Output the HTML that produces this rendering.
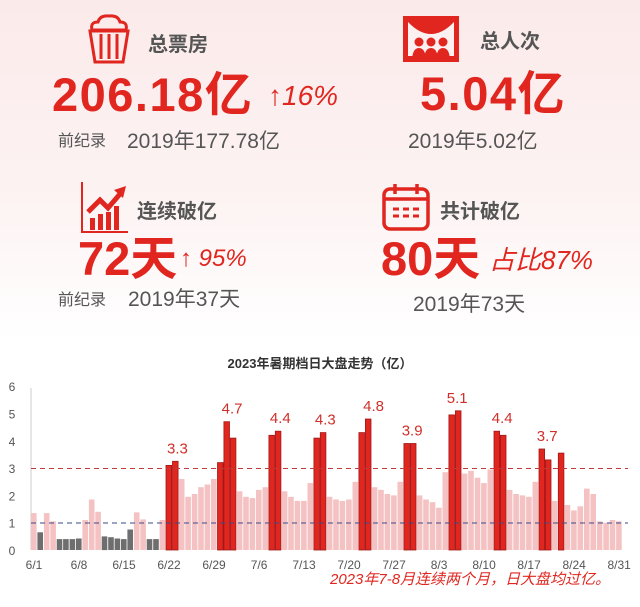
<!DOCTYPE html>
<html><head><meta charset="utf-8">
<style>
html,body{margin:0;padding:0}
body{width:640px;height:607px;position:relative;overflow:hidden;font-family:"Liberation Sans","Noto Sans CJK SC",sans-serif;background:linear-gradient(#fbeaea 0px,#fdf3f3 200px,#ffffff 340px,#ffffff 607px)}
.t{position:absolute;white-space:nowrap;line-height:1}
.red{color:#e0261f}
.g{color:#555}
.big{font-weight:bold;font-size:47px;color:#e0261f;letter-spacing:1.5px}
.lab{font-weight:bold;font-size:20px;color:#555}
.it{font-style:italic;color:#e0261f}
</style></head><body>
<!-- popcorn icon -->
<svg style="position:absolute;left:86px;top:14px" width="46" height="50" viewBox="0 0 46 50">
<path d="M6 16 Q4 8 12 8 Q14 1 23 2 Q32 1 34 8 Q42 8 40 16 Z" fill="none" stroke="#e0261f" stroke-width="3"/>
<path d="M4 17 H42 L37 48 H9 Z" fill="none" stroke="#e0261f" stroke-width="3"/>
<path d="M15 20 V45 M23 20 V45 M31 20 V45" stroke="#e0261f" stroke-width="3"/>
</svg>
<div class="t lab" style="left:148px;top:35px">总票房</div>
<div class="t big" style="left:52px;top:71px">206.18亿</div>
<div class="t it" style="left:268px;top:82px;font-size:28px">↑16%</div>
<div class="t g" style="left:58px;top:134px;font-size:16px">前纪录</div>
<div class="t g" style="left:127px;top:131px;font-size:21px">2019年177.78亿</div>

<!-- theater icon -->
<svg style="position:absolute;left:403px;top:16px" width="56" height="46" viewBox="0 0 56 46">
<rect x="0" y="0" width="56" height="46" fill="#e0261f"/>
<path d="M5 6 Q28 30 51 6 V40 H5 Z" fill="#fdf0f0"/>
<circle cx="16" cy="26" r="4.5" fill="#e0261f"/><circle cx="28" cy="26" r="4.5" fill="#e0261f"/><circle cx="40" cy="26" r="4.5" fill="#e0261f"/>
<path d="M9 46 Q9 32 16 32 Q23 32 23 46 Z M21 46 Q21 32 28 32 Q35 32 35 46 Z M33 46 Q33 32 40 32 Q47 32 47 46Z" fill="#e0261f"/>
</svg>
<div class="t lab" style="left:480px;top:32px">总人次</div>
<div class="t big" style="left:420px;top:70px">5.04亿</div>
<div class="t g" style="left:408px;top:131px;font-size:21px">2019年5.02亿</div>

<!-- growth icon -->
<svg style="position:absolute;left:80px;top:182px" width="50" height="52" viewBox="0 0 50 52">
<path d="M2 0 V50 H48" fill="none" stroke="#e0261f" stroke-width="2"/>
<rect x="10" y="36" width="5" height="12" fill="#e0261f"/><rect x="18" y="32" width="5" height="16" fill="#e0261f"/><rect x="26" y="30" width="5" height="18" fill="#e0261f"/><rect x="34" y="24" width="5" height="24" fill="#e0261f"/>
<path d="M8 30 L20 18 L28 26 L40 12" fill="none" stroke="#e0261f" stroke-width="5"/>
<path d="M34 8 L46 4 L43 16 Z" fill="#e0261f"/>
</svg>
<div class="t lab" style="left:137px;top:202px">连续破亿</div>
<div class="t big" style="left:78px;top:235px;letter-spacing:0">72天</div>
<div class="t it" style="left:180px;top:247px;font-size:24px">↑ 95%</div>
<div class="t g" style="left:58px;top:293px;font-size:16px">前纪录</div>
<div class="t g" style="left:128px;top:289px;font-size:21px">2019年37天</div>

<!-- calendar icon -->
<svg style="position:absolute;left:381px;top:182px" width="50" height="50" viewBox="0 0 50 50">
<rect x="3" y="7" width="44" height="40" rx="6" fill="none" stroke="#e0261f" stroke-width="3.5"/>
<path d="M3 17 H47" stroke="#e0261f" stroke-width="3.5"/>
<path d="M14 2 V12 M36 2 V12" stroke="#e0261f" stroke-width="3.5"/>
<path d="M12 27 H18 M22 27 H28 M32 27 H38 M12 34 H18 M22 34 H28 M32 34 H38" stroke="#e0261f" stroke-width="3"/>
</svg>
<div class="t lab" style="left:440px;top:202px">共计破亿</div>
<div class="t big" style="left:381px;top:235px;letter-spacing:0">80天</div>
<div class="t it" style="left:489px;top:247px;font-size:26px">占比87%</div>
<div class="t g" style="left:413px;top:294px;font-size:21px">2019年73天</div>

<div class="t" style="left:0;width:640px;text-align:center;top:357px;font-size:13px;font-weight:bold;color:#333">2023年暑期档日大盘走势（亿）</div>

<svg id="ch" style="position:absolute;left:0;top:370px" width="640" height="237" viewBox="0 370 640 237"></svg>
<div class="t it" style="left:330px;top:572px;font-size:15px">2023年7-8月连续两个月，日大盘均过亿。</div>

<script>
var v=[1.35,.65,1.35,1.05,.4,.4,.4,.42,1.1,1.85,1.4,.5,.47,.42,.4,.75,1.38,1.12,.4,.4,1.1,3.1,3.25,2.6,1.95,2.05,2.3,2.4,2.6,3.2,
4.7,4.1,2.15,1.95,1.9,2.2,2.3,4.2,4.35,2.15,1.95,1.8,1.8,2.45,4.1,4.3,1.95,1.85,1.8,1.85,2.5,4.3,4.8,2.3,2.2,2.05,2,2.5,3.9,3.9,2.0,
1.85,1.75,1.55,2.85,4.95,5.1,2.8,2.9,2.65,2.45,2.95,4.35,4.2,2.2,2.05,2,1.95,2.5,3.7,3.3,1.8,3.55,1.65,1.45,1.6,2.25,2.05,1.05,1,1.1,1.05];
var Z=550,U=27.3,X0=31,P=6.43,s='';
s+='<line x1="31" y1="388" x2="31" y2="550" stroke="#ccc"/>';
for(var i=0;i<7;i++){s+='<text x="12" y="'+(Z-i*U+5)+'" font-size="12" fill="#555" text-anchor="middle" font-family="Liberation Sans">'+i+'</text>';}
for(var i=0;i<v.length;i++){var x=X0+i*P,h=v[i]*U,c,st='';
 if(v[i]<1)c='#6e6e6e';else if(v[i]>=3){c='#e0261f';st=' stroke="#a01818" stroke-width="0.8"';}else c='#f4c2c2';
 s+='<rect x="'+x.toFixed(1)+'" y="'+(Z-h).toFixed(1)+'" width="5.6" height="'+h.toFixed(1)+'" fill="'+c+'"'+st+'/>';}
s+='<line x1="31" y1="468.5" x2="628" y2="468.5" stroke="#c0393b" stroke-dasharray="5,4" stroke-width="1"/>';
s+='<line x1="31" y1="523" x2="628" y2="523" stroke="#3a4a8a" stroke-dasharray="5,4" stroke-width="1"/>';
var L=['6/1','6/8','6/15','6/22','6/29','7/6','7/13','7/20','7/27','8/3','8/10','8/17','8/24','8/31'];
for(var k=0;k<L.length;k++){s+='<text x="'+(X0+k*7*P+3)+'" y="569" font-size="12" fill="#555" text-anchor="middle" font-family="Liberation Sans">'+L[k]+'</text>';}
var A=[[22,'3.3'],[30.5,'4.7'],[38,'4.4'],[45,'4.3'],[52.5,'4.8'],[58.5,'3.9'],[65.5,'5.1'],[72.5,'4.4'],[79.5,'3.7']];
for(var k=0;k<A.length;k++){var i=Math.floor(A[k][0]);var m=Math.max(v[i],v[Math.ceil(A[k][0])]||0);
 s+='<text x="'+(X0+A[k][0]*P+5)+'" y="'+(Z-m*U-8)+'" font-size="15" fill="#d0302a" text-anchor="middle" font-family="Liberation Sans">'+A[k][1]+'</text>';}
document.getElementById('ch').innerHTML=s;
</script>
</body></html>
